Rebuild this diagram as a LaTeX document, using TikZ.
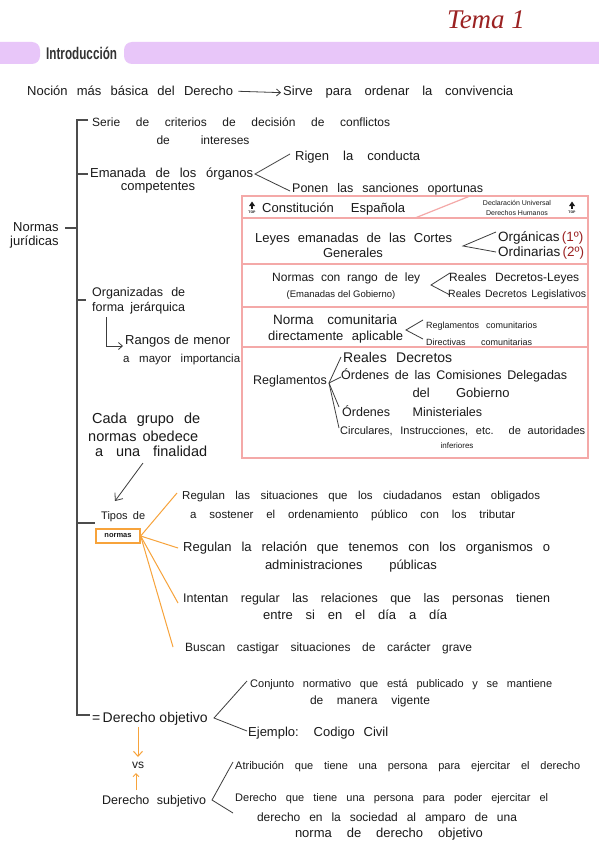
\documentclass[tikz,border=0pt]{standalone}
\usepackage{fontspec}
\usetikzlibrary{arrows.meta}
\setmainfont{Liberation Sans}
\newfontfamily\serifit{Liberation Serif}
\definecolor{lilac}{HTML}{E8C6F9}
\definecolor{pinkl}{HTML}{F4A9A8}
\definecolor{orng}{HTML}{F7A33B}
\definecolor{tred}{HTML}{9B2222}
\definecolor{ink}{HTML}{1A1A1A}
\newcommand{\fs}[1]{\fontsize{#1}{#1}\selectfont}
\newcommand{\sw}[2]{\makebox[#1pt][s]{#2}}
\tikzset{
  hw/.style={inner sep=0pt, anchor=base west, text=ink},
  hwc/.style={inner sep=0pt, anchor=base, text=ink},
  ln/.style={draw=ink!85, line width=0.8pt},
  br/.style={draw=black!70, line width=1.1pt},
  pk/.style={draw=pinkl, line width=1.2pt},
  og/.style={draw=orng, line width=1pt},
  tip/.style={-{Straight Barb[length=4pt,width=7pt]}},
}
\begin{document}
\begin{tikzpicture}[x=1pt,y=-1pt]
\useasboundingbox (0,0) rectangle (599,848);
\fill[white] (0,0) rectangle (599,848);

% title
\node[inner sep=0, anchor=base west, text=tred, font=\serifit\itshape\fs{27}] (tema) at (447,29) {Tema 1};

% header band
\fill[lilac, rounded corners=8pt] (-12,42) rectangle (40,64);
\fill[lilac, rounded corners=8pt] (124,42) rectangle (612,64);
\node[inner sep=0, anchor=west, text=black!80] (intro) at (46,53.5) {\scalebox{0.9}[1.3]{\bfseries\fs{13}Introducción}};

% first line
\node[hw, font=\fs{13}] (noc) at (27,96) {\sw{206}{Noción más básica del Derecho}};
\node[hw, font=\fs{13}] (sirve) at (283,96) {\sw{230}{Sirve para ordenar la convivencia}};
\draw[ln, tip] ([xshift=5pt]noc.east) -- ([xshift=-2pt]sirve.west);

% main bracket
\coordinate (bt0) at (88,120);
\coordinate (bt) at (77,120);
\coordinate (bb) at (77,715);
\coordinate (bb0) at (90,715);
\draw[br] (bt0) -- (bt) -- (bb) -- (bb0);
\coordinate (tkE) at (77,174);  \coordinate (tkE0) at (88,174);
\coordinate (tkN) at (77,228);  \coordinate (tkN0) at (65,228);
\coordinate (tkO) at (77,300);  \coordinate (tkO0) at (86,300);
\coordinate (tkT) at (77,523);  \coordinate (tkT0) at (95,523);
\draw[br] (tkE) -- (tkE0);
\draw[br] (tkN0) -- (tkN);
\draw[br] (tkO) -- (tkO0);
\draw[br] (tkT) -- (tkT0);

% Normas juridicas
\node[hw, font=\fs{13}] (nor1) at (13,231) {Normas};
\node[hw, font=\fs{13}] (nor2) at (10,245) {jurídicas};

% Serie
\node[hw, font=\fs{12}] (serie) at (92,126) {\sw{298}{Serie de criterios de decisión de conflictos}};
\node[hwc, font=\fs{12}] (serie2) at (203,144) {\sw{93}{de intereses}};

% Emanada
\node[hw, font=\fs{13}] (eman) at (90,177) {\sw{163}{Emanada de los órganos}};
\node[hwc, font=\fs{13}] (eman2) at (158,190) {competentes};
\coordinate (e0) at (255,174);
\coordinate (e1) at (290,154);
\coordinate (e2) at (290,191);
\draw[ln] (e1) -- (e0) -- (e2);
\node[hw, font=\fs{13}] (rigen) at (295,160) {\sw{125}{Rigen la conducta}};
\node[hw, font=\fs{12.5}] (ponen) at (292,192) {\sw{191}{Ponen las sanciones oportunas}};

% pink table
\draw[pk] (242,196) rectangle (588,458);
\draw[pk] (242,218) -- (588,218);
\draw[pk] (242,264) -- (588,264);
\draw[pk] (242,307) -- (588,307);
\draw[pk] (242,347) -- (588,347);
\coordinate (d1) at (415,218);
\coordinate (d2) at (470,196);
\draw[pk] (d1) -- (d2);

% TOP icons
\foreach \tx/\nm in {252/topa, 572/topb}{
  \fill[ink] (\tx-1,209) rectangle (\tx+1,205.5);
  \fill[ink] (\tx-3,206) -- (\tx+3,206) -- (\tx,201.5) -- cycle;
  \node[inner sep=0, font=\bfseries\fs{3.5}, text=ink] (\nm) at (\tx,212) {TOP};
}

% row 1
\node[hw, font=\fs{13}] (const) at (262,212) {\sw{143}{Constitución Española}};
\node[hwc, font=\fs{7}] (dudh1) at (517,205) {Declaración Universal};
\node[hwc, font=\fs{7}] (dudh2) at (517,215) {Derechos Humanos};

% row 2
\node[hw, font=\fs{13}] (leyes) at (255,242) {\sw{197}{Leyes emanadas de las Cortes}};
\node[hwc, font=\fs{13}] (leyes2) at (353,257) {Generales};
\coordinate (l0) at (463,246);
\coordinate (l1) at (496,232);
\coordinate (l2) at (496,252);
\draw[ln] (l1) -- (l0) -- (l2);
\node[hw, font=\fs{13.5}] (org) at (498,241) {Orgánicas\,\textcolor{tred}{(1º)}};
\node[hw, font=\fs{13.5}] (ord) at (498,256) {Ordinarias\,\textcolor{tred}{(2º)}};

% row 3
\node[hw, font=\fs{12}] (rango) at (272,281) {\sw{148}{Normas con rango de ley}};
\node[hwc, font=\fs{9.5}] (rango2) at (341,297) {(Emanadas del Gobierno)};
\coordinate (n0) at (431,285);
\coordinate (n1) at (450,273);
\coordinate (n2) at (450,295);
\draw[ln] (n1) -- (n0) -- (n2);
\node[hw, font=\fs{12}] (rdl) at (449,281) {\sw{130}{Reales Decretos-Leyes}};
\node[hw, font=\fs{10.5}] (rdleg) at (448,297) {\sw{138}{Reales Decretos Legislativos}};

% row 4
\node[hw, font=\fs{13.5}] (comu) at (273,324) {\sw{124}{Norma comunitaria}};
\node[hw, font=\fs{13}] (comu2) at (268,340) {\sw{135}{directamente aplicable}};
\coordinate (c0) at (406,330);
\coordinate (c1) at (423,320);
\coordinate (c2) at (423,339);
\draw[ln] (c1) -- (c0) -- (c2);
\node[hw, font=\fs{9}] (regc) at (426,328) {\sw{111}{Reglamentos comunitarios}};
\node[hw, font=\fs{9}] (dirc) at (426,345) {\sw{106}{Directivas comunitarias}};

% row 5
\node[hw, font=\fs{12.5}] (regl) at (253,384) {Reglamentos};
\coordinate (r0) at (329,383);
\coordinate (r1) at (341,357);
\coordinate (r2) at (341,377);
\coordinate (r3) at (339,407);
\coordinate (r4) at (339,428);
\draw[ln] (r0) -- (r1);
\draw[ln] (r0) -- (r2);
\draw[ln] (r0) -- (r3);
\draw[ln] (r0) -- (r4);
\node[hw, font=\fs{14}] (rd) at (343,362) {\sw{109}{Reales Decretos}};
\node[hw, font=\fs{12.5}] (ocd) at (341,379) {\sw{226}{Órdenes de las Comisiones Delegadas}};
\node[hwc, font=\fs{13}] (ocd2) at (461,397) {\sw{97}{del Gobierno}};
\node[hw, font=\fs{12.5}] (om) at (342,416) {\sw{140}{Órdenes Ministeriales}};
\node[hw, font=\fs{11}] (circ) at (340,434) {\sw{245}{Circulares, Instrucciones, etc. de autoridades}};
\node[hwc, font=\fs{8}] (circ2) at (457,448) {inferiores};

% Organizadas
\node[hw, font=\fs{12.5}] (orgz) at (92,296) {\sw{93}{Organizadas de}};
\node[hw, font=\fs{12.5}] (orgz2) at (92,311) {\sw{93}{forma jerárquica}};
\coordinate (a0) at (106,317);
\coordinate (a2) at (123,346);
\draw[ln, tip] (a0) |- (a2);
\node[hw, font=\fs{13}] (rang) at (125,344) {\sw{105}{Rangos de menor}};
\node[hw, font=\fs{11.5}] (rang2) at (123,362) {\sw{117}{a mayor importancia}};

% Cada grupo
\node[hw, font=\fs{14.5}] (cada) at (92,423) {\sw{108}{Cada grupo de}};
\node[hw, font=\fs{14.5}] (cada2) at (88,441) {\sw{110}{normas obedece}};
\node[hw, font=\fs{14.5}] (cada3) at (95,456) {\sw{112}{a una finalidad}};
\coordinate (g0) at (143,463);
\coordinate (g1) at (115,501);
\draw[ln, -{Straight Barb[length=6pt,width=10pt]}] (g0) -- (g1);

% Tipos de normas
\node[hw, font=\fs{11}] (tipos) at (101,519) {\sw{44}{Tipos de}};
\node[draw=orng, line width=1.3pt, minimum width=44pt, minimum height=14pt, inner sep=0pt, font=\bfseries\fs{7.5}, text=ink] (tipbox) at (118,536) {normas};
\coordinate (o1) at (177,493);
\coordinate (o2) at (178,548);
\coordinate (o3) at (178,603);
\coordinate (o4) at (173,647);
\draw[og] (tipbox.east) -- (o1);
\draw[og] (tipbox.east) -- (o2);
\draw[og] (tipbox.east) -- (o3);
\draw[og] (tipbox.east) -- (o4);

\node[hw, font=\fs{11.5}] (t1) at (182,499) {\sw{358}{Regulan las situaciones que los ciudadanos estan obligados}};
\node[hw, font=\fs{11.5}] (t1b) at (190,518) {\sw{325}{a sostener el ordenamiento público con los tributar}};
\node[hw, font=\fs{13}] (t2) at (183,551) {\sw{367}{Regulan la relación que tenemos con los organismos o}};
\node[hwc, font=\fs{13}] (t2b) at (351,569) {\sw{172}{administraciones públicas}};
\node[hw, font=\fs{12.5}] (t3) at (183,602) {\sw{367}{Intentan regular las relaciones que las personas tienen}};
\node[hw, font=\fs{13}] (t3b) at (263,619) {\sw{184}{entre si en el día a día}};
\node[hw, font=\fs{12}] (t4) at (185,651) {\sw{287}{Buscan castigar situaciones de carácter grave}};

% Derecho objetivo
\node[hw, font=\fs{14}] (dobj) at (92,722) {=\,Derecho objetivo};
\coordinate (do0) at (214,718);
\coordinate (do1) at (247,681);
\coordinate (do2) at (247,731);
\draw[ln] (do1) -- (do0) -- (do2);
\node[hw, font=\fs{11}] (conj) at (250,687) {\sw{302}{Conjunto normativo que está publicado y se mantiene}};
\node[hwc, font=\fs{12}] (conj2) at (370,704) {\sw{120}{de manera vigente}};
\node[hw, font=\fs{13}] (ejem) at (248,736) {\sw{140}{Ejemplo: Codigo Civil}};

% vs
\node[inner sep=0pt, font=\fs{12}, text=ink] (vs) at (138,765) {vs};
\coordinate (v0) at (138,727);
\coordinate (v1) at (138,757);
\coordinate (v2) at (136,773);
\coordinate (v3) at (136,790);
\draw[og, -{Straight Barb[length=5pt,width=9pt]}] (v0) -- (v1);
\draw[og, -{Straight Barb[length=3pt,width=6pt]}] (v3) -- (v2);

% Derecho subjetivo
\node[hw, font=\fs{12.5}] (dsub) at (102,804) {\sw{104}{Derecho subjetivo}};
\coordinate (ds0) at (212,800);
\coordinate (ds1) at (233,762);
\coordinate (ds2) at (233,813);
\draw[ln] (ds1) -- (ds0) -- (ds2);
\node[hw, font=\fs{11}] (atr) at (235,769) {\sw{345}{Atribución que tiene una persona para ejercitar el derecho}};
\node[hw, font=\fs{11}] (dq) at (235,801) {\sw{313}{Derecho que tiene una persona para poder ejercitar el}};
\node[hwc, font=\fs{12}] (dq2) at (387,821) {\sw{260}{derecho en la sociedad al amparo de una}};
\node[hwc, font=\fs{13}] (dq3) at (389,837) {\sw{188}{norma de derecho objetivo}};
\end{tikzpicture}
\end{document}
